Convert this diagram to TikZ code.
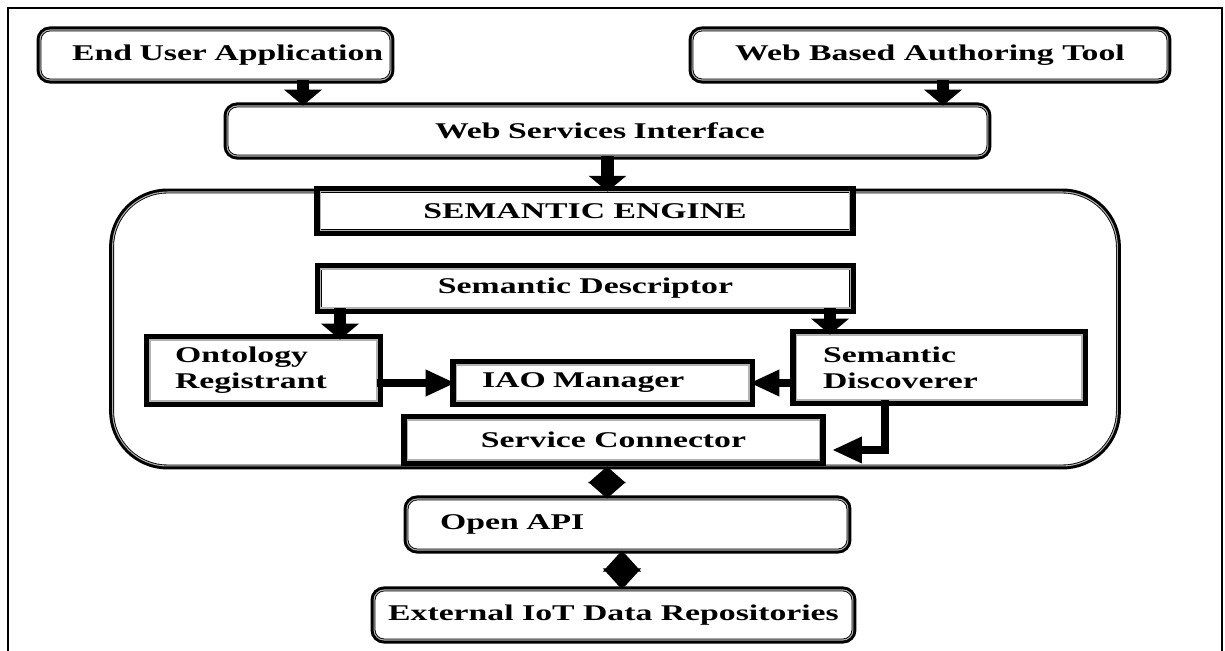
\documentclass[tikz,border=0pt]{standalone}
\usepackage{fontspec}
\setmainfont{Liberation Serif}[FakeStretch=1.5]
\usetikzlibrary{arrows.meta}

% framed boxes: thick outer band, thin grey gap, thin inner line
\tikzset{
  box/.style={fill=white, draw=black, line width=0.5pt, double=black!30,
    double distance=0.6pt, preaction={draw=black, line width=#1},
    inner ysep=0pt, font=\bfseries\fontsize{12.8}{15}\selectfont},
  box/.default=4pt,
  rbox/.style={box, rounded corners=0.2cm},
  sbox/.style={box=6.5pt},
  vflow/.style={line width=7pt, -{Triangle[length=9pt,width=21pt]}},
  hflow/.style={line width=4.5pt, -{Triangle[length=17pt,width=14pt]}},
  twoway/.style={line width=3pt,
    {Triangle[length=#1,width=21pt]}-{Triangle[length=#1,width=21pt]}},
  twoway/.default=9.5pt
}

\begin{document}
\begin{tikzpicture}[x=0.02cm, y=-0.02cm]
    \useasboundingbox (0,0) rectangle (1225,651);
    \draw[line width=1.6pt] (8,651) -- (8,8) -- (1222,8) -- (1222,651);

    % clients
    \node[rbox, align=left, inner xsep=0.04cm, text width=6.94cm, minimum height=1.0cm]
        (eua) at (215.5,55) {\hspace*{0.6cm}End User Application};
    \node[rbox, minimum width=9.52cm, minimum height=1.0cm]
        (wbat) at (930,55) {Web Based Authoring Tool};
    \node[rbox, align=left, inner xsep=0.04cm, text width=15.14cm, minimum height=1.0cm]
        (wsi) at (607.5,131) {\hspace*{4.12cm}Web Services Interface};

    % engine and its parts
    \node[box, rounded corners=1.1cm, minimum width=20.1cm, minimum height=5.48cm]
        (engine) at (615,329) {};
    \node[sbox, minimum width=10.6cm, minimum height=0.78cm]
        (se) at (585,211) {SEMANTIC ENGINE};
    \node[sbox, minimum width=10.6cm, minimum height=0.78cm]
        (sd) at (585.5,288.5) {Semantic Descriptor};
    \node[sbox, align=left, inner xsep=0.5cm, text width=3.54cm, minimum height=1.22cm]
        (or) at (263.5,370.5) {Ontology\\Registrant};
    \node[sbox, align=left, inner xsep=0.52cm, text width=4.82cm, minimum height=0.72cm]
        (iao) at (602.5,383) {IAO Manager};
    \node[sbox, align=left, inner xsep=0.54cm, text width=4.64cm, minimum height=1.3cm]
        (sdisc) at (939,367.5) {Semantic\\Discoverer};
    \node[sbox, minimum width=8.26cm, minimum height=0.8cm]
        (sc) at (613.5,440) {Service Connector};
    \coordinate (scin) at (832,450);

    % data side
    \node[rbox, align=left, inner xsep=0.04cm, text width=8.74cm, minimum height=1.02cm]
        (api) at (627.5,524.5) {\hspace*{0.62cm}Open API};
    \node[rbox, minimum width=9.58cm, minimum height=1.0cm]
        (ext) at (613.5,615) {External IoT Data Repositories};

    % connectors
    \draw[vflow] (eua.south -| 303,0) -- (wsi.north -| 303,0);
    \draw[vflow] (wbat.south -| 943,0) -- (wsi.north -| 943,0);
    \draw[vflow] (wsi.south) -- (engine.north -| wsi.south);
    \draw[vflow] (sd.south -| 340,0) -- (or.north -| 340,0);
    \draw[vflow] (sd.south -| 830,0) -- (sdisc.north -| 830,0);
    \draw[hflow] (or.east |- iao.west) -- (iao.west);
    \draw[hflow] (sdisc.west |- iao.east) -- (iao.east);
    \draw[hflow] (sdisc.south -| 885,0) |- (scin);
    \draw[twoway] (engine.south -| 607,0) -- (api.north -| 607,0);
    \draw[twoway=12pt] (api.south -| 622,0) -- (ext.north -| 622,0);
\end{tikzpicture}
\end{document}
